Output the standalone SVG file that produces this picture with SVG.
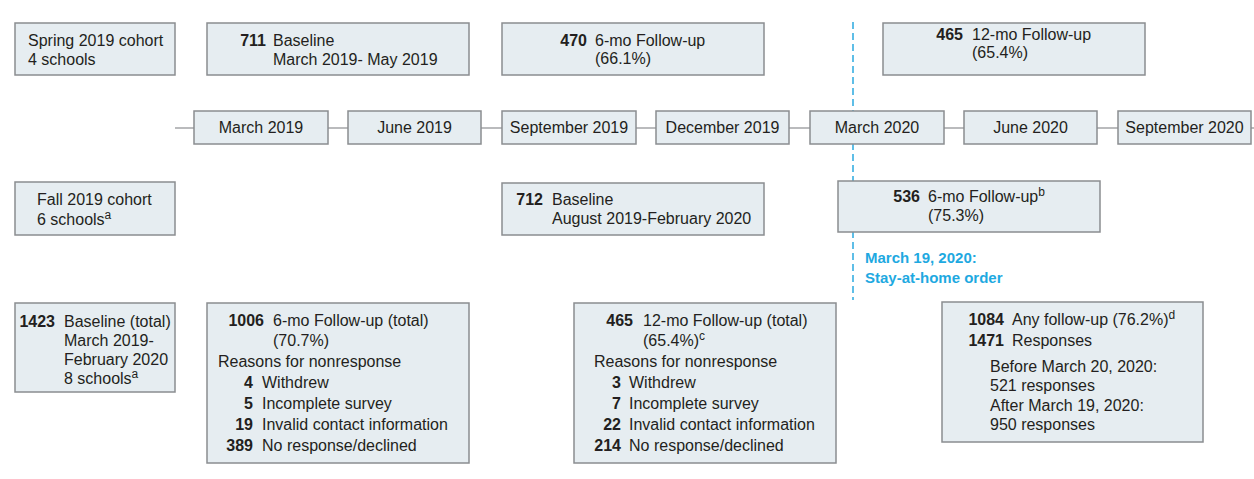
<svg xmlns="http://www.w3.org/2000/svg" width="1254" height="479" viewBox="0 0 1254 479">
<style>
text{font-family:"Liberation Sans",Arial,sans-serif;font-size:16px;fill:#231f20}
.b{font-weight:bold}
.e{text-anchor:end}
.m{text-anchor:middle}
.box{fill:#e6edf1;stroke:#8a8d90;stroke-width:1.5}
.sup{font-size:12px}
.blue{fill:#1ea9e1;font-weight:bold;font-size:15px}
.tl{stroke:#a3a5a7;stroke-width:1.5;fill:none}
.dash{stroke:#2aa9e0;stroke-width:1.5;stroke-dasharray:7 4;fill:none}
</style>
<rect width="1254" height="479" fill="#ffffff"/>
<g id="connectors">
<line class="tl" x1="175" y1="128" x2="1254" y2="128"/>
<line class="dash" x1="853" y1="22" x2="853" y2="300"/>
</g>
<g id="spring-cohort">
<rect class="box" x="15" y="23" width="160" height="52"/>
<text x="28" y="46">Spring 2019 cohort</text>
<text x="28" y="65">4 schools</text>
</g>
<g id="baseline-711">
<rect class="box" x="207" y="23" width="262" height="52"/>
<text class="b e" x="266" y="46">711</text>
<text x="273" y="46">Baseline</text>
<text x="273" y="65">March 2019- May 2019</text>
</g>
<g id="followup-470">
<rect class="box" x="502" y="23" width="262" height="52"/>
<text class="b e" x="587" y="46">470</text>
<text x="595" y="46">6-mo Follow-up</text>
<text x="595" y="64">(66.1%)</text>
</g>
<g id="followup-465-12mo">
<rect class="box" x="883" y="23" width="262" height="52"/>
<text class="b e" x="963" y="40">465</text>
<text x="972" y="40">12-mo Follow-up</text>
<text x="972" y="58">(65.4%)</text>
</g>
<g id="t-mar2019"><rect class="box" x="194" y="111" width="134" height="33"/><text class="m" x="261" y="133">March 2019</text></g>
<g id="t-jun2019"><rect class="box" x="348" y="111" width="133" height="33"/><text class="m" x="414.5" y="133">June 2019</text></g>
<g id="t-sep2019"><rect class="box" x="502" y="111" width="134" height="33"/><text class="m" x="569" y="133">September 2019</text></g>
<g id="t-dec2019"><rect class="box" x="656" y="111" width="133" height="33"/><text class="m" x="722.5" y="133">December 2019</text></g>
<g id="t-mar2020"><rect class="box" x="810" y="111" width="134" height="33"/><text class="m" x="877" y="133">March 2020</text></g>
<g id="t-jun2020"><rect class="box" x="964" y="111" width="133" height="33"/><text class="m" x="1030.5" y="133">June 2020</text></g>
<g id="t-sep2020"><rect class="box" x="1118" y="111" width="133" height="33"/><text class="m" x="1184.5" y="133">September 2020</text></g>
<g id="fall-cohort">
<rect class="box" x="15" y="182" width="160" height="53"/>
<text x="37" y="205">Fall 2019 cohort</text>
<text x="37" y="225">6 schools<tspan class="sup" dy="-6">a</tspan></text>
</g>
<g id="baseline-712">
<rect class="box" x="502" y="183" width="262" height="52"/>
<text class="b e" x="543" y="205">712</text>
<text x="552" y="205">Baseline</text>
<text x="552" y="224">August 2019-February 2020</text>
</g>
<g id="followup-536">
<rect class="box" x="838" y="181" width="262" height="51"/>
<text class="b e" x="920" y="202">536</text>
<text x="928" y="202">6-mo Follow-up<tspan class="sup" dy="-6">b</tspan></text>
<text x="928" y="221">(75.3%)</text>
</g>
<g id="stay-at-home">
<text class="blue" x="865" y="263">March 19, 2020:</text>
<text class="blue" x="865" y="283">Stay-at-home order</text>
</g>
<g id="baseline-total">
<rect class="box" x="15" y="303" width="160" height="89"/>
<text class="b e" x="55" y="327">1423</text>
<text x="64" y="327">Baseline (total)</text>
<text x="64" y="346">March 2019-</text>
<text x="64" y="365">February 2020</text>
<text x="64" y="384">8 schools<tspan class="sup" dy="-6">a</tspan></text>
</g>
<g id="followup-6mo-total">
<rect class="box" x="207" y="303" width="262" height="160"/>
<text class="b e" x="264" y="326">1006</text>
<text x="273" y="326">6-mo Follow-up (total)</text>
<text x="273" y="346">(70.7%)</text>
<text x="218" y="367">Reasons for nonresponse</text>
<text class="b e" x="253" y="388">4</text><text x="262" y="388">Withdrew</text>
<text class="b e" x="253" y="409">5</text><text x="262" y="409">Incomplete survey</text>
<text class="b e" x="253" y="430">19</text><text x="262" y="430">Invalid contact information</text>
<text class="b e" x="253" y="451">389</text><text x="262" y="451">No response/declined</text>
</g>
<g id="followup-12mo-total">
<rect class="box" x="574" y="303" width="262" height="160"/>
<text class="b e" x="633" y="326">465</text>
<text x="643" y="326">12-mo Follow-up (total)</text>
<text x="643" y="346">(65.4%)<tspan class="sup" dy="-6">c</tspan></text>
<text x="594" y="367">Reasons for nonresponse</text>
<text class="b e" x="621" y="388">3</text><text x="629" y="388">Withdrew</text>
<text class="b e" x="621" y="409">7</text><text x="629" y="409">Incomplete survey</text>
<text class="b e" x="621" y="430">22</text><text x="629" y="430">Invalid contact information</text>
<text class="b e" x="621" y="451">214</text><text x="629" y="451">No response/declined</text>
</g>
<g id="any-followup">
<rect class="box" x="942" y="302" width="261" height="140"/>
<text class="b e" x="1004" y="325">1084</text>
<text x="1012" y="325">Any follow-up (76.2%)<tspan class="sup" dy="-6">d</tspan></text>
<text class="b e" x="1004" y="346">1471</text>
<text x="1012" y="346">Responses</text>
<text x="990" y="372">Before March 20, 2020:</text>
<text x="990" y="391">521 responses</text>
<text x="990" y="411">After March 19, 2020:</text>
<text x="990" y="430">950 responses</text>
</g>
</svg>
